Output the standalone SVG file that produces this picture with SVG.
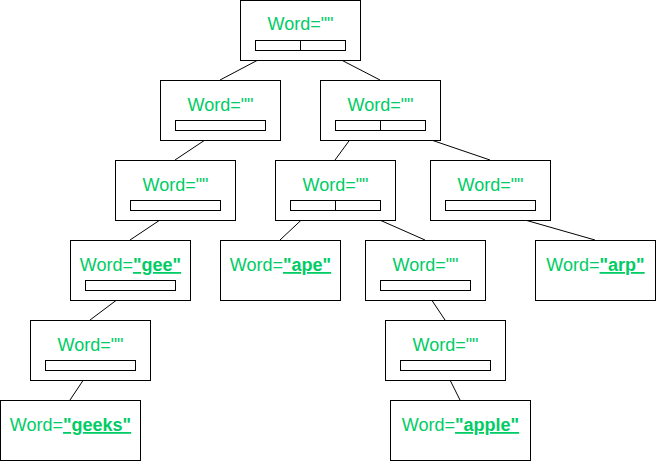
<svg xmlns="http://www.w3.org/2000/svg" width="656" height="461" viewBox="0 0 656 461">
<style>
.box{fill:#fff;stroke:#000;stroke-width:1}
.bar{fill:#fff;stroke:#000;stroke-width:1}
.t{font-family:"Liberation Sans",Arial,sans-serif;font-size:18px;fill:#00CC66;text-anchor:middle}
.w{font-weight:bold;text-decoration:underline}
.c line{stroke:#000;stroke-width:1}
</style>
<rect width="656" height="461" fill="#fff"/>
<g class="c" id="connectors">
<line x1="277" y1="50" x2="220" y2="80"/>
<line x1="322" y1="50" x2="380" y2="80"/>
<line x1="220" y1="130" x2="175" y2="160"/>
<line x1="357" y1="130" x2="335" y2="160"/>
<line x1="402" y1="130" x2="490" y2="160"/>
<line x1="175" y1="210" x2="130" y2="240"/>
<line x1="312" y1="210" x2="280" y2="240"/>
<line x1="357" y1="210" x2="425" y2="240"/>
<line x1="490" y1="210" x2="595" y2="240"/>
<line x1="130" y1="290" x2="90" y2="320"/>
<line x1="425" y1="290" x2="445" y2="320"/>
<line x1="90" y1="370" x2="70" y2="400"/>
<line x1="445" y1="370" x2="460" y2="400"/>
</g>
<g id="n_root"><rect class="box" x="240.5" y="0.5" width="120" height="60"/><text class="t" x="300.5" y="30">Word=""</text><rect class="bar" x="255.5" y="40.5" width="45" height="10"/><rect class="bar" x="300.5" y="40.5" width="45" height="10"/></g>
<g id="n_l1a"><rect class="box" x="160.5" y="80.5" width="120" height="60"/><text class="t" x="220.5" y="111">Word=""</text><rect class="bar" x="175.5" y="120.5" width="90" height="10"/></g>
<g id="n_l1b"><rect class="box" x="320.5" y="80.5" width="120" height="60"/><text class="t" x="380.5" y="111">Word=""</text><rect class="bar" x="335.5" y="120.5" width="45" height="10"/><rect class="bar" x="380.5" y="120.5" width="45" height="10"/></g>
<g id="n_l2a"><rect class="box" x="115.5" y="160.5" width="120" height="60"/><text class="t" x="175.5" y="191">Word=""</text><rect class="bar" x="130.5" y="200.5" width="90" height="10"/></g>
<g id="n_l2b"><rect class="box" x="275.5" y="160.5" width="120" height="60"/><text class="t" x="335.5" y="191">Word=""</text><rect class="bar" x="290.5" y="200.5" width="45" height="10"/><rect class="bar" x="335.5" y="200.5" width="45" height="10"/></g>
<g id="n_l2c"><rect class="box" x="430.5" y="160.5" width="120" height="60"/><text class="t" x="490.5" y="191">Word=""</text><rect class="bar" x="445.5" y="200.5" width="90" height="10"/></g>
<g id="n_gee"><rect class="box" x="70.5" y="240.5" width="120" height="60"/><text class="t" x="130.5" y="271">Word=<tspan class="w">"gee"</tspan></text><rect class="bar" x="85.5" y="280.5" width="90" height="10"/></g>
<g id="n_ape"><rect class="box" x="220.5" y="240.5" width="120" height="60"/><text class="t" x="280.5" y="271">Word=<tspan class="w">"ape"</tspan></text></g>
<g id="n_l3c"><rect class="box" x="365.5" y="240.5" width="120" height="60"/><text class="t" x="425.5" y="271">Word=""</text><rect class="bar" x="380.5" y="280.5" width="90" height="10"/></g>
<g id="n_arp"><rect class="box" x="535.5" y="240.5" width="120" height="60"/><text class="t" x="595.5" y="271">Word=<tspan class="w">"arp"</tspan></text></g>
<g id="n_l4a"><rect class="box" x="30.5" y="320.5" width="120" height="60"/><text class="t" x="90.5" y="351">Word=""</text><rect class="bar" x="45.5" y="360.5" width="90" height="10"/></g>
<g id="n_l4b"><rect class="box" x="385.5" y="320.5" width="120" height="60"/><text class="t" x="445.5" y="351">Word=""</text><rect class="bar" x="400.5" y="360.5" width="90" height="10"/></g>
<g id="n_geeks"><rect class="box" x="0.5" y="400.5" width="140" height="60"/><text class="t" x="70.5" y="431">Word=<tspan class="w">"geeks"</tspan></text></g>
<g id="n_apple"><rect class="box" x="390.5" y="400.5" width="140" height="60"/><text class="t" x="460.5" y="431">Word=<tspan class="w">"apple"</tspan></text></g>
</svg>
